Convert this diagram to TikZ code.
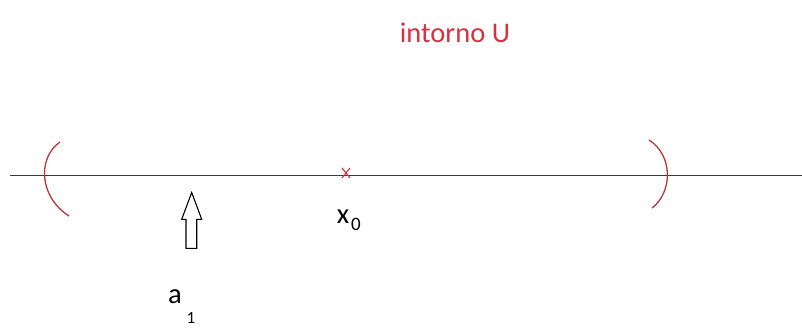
\documentclass[tikz,border=0pt]{standalone}
\usepackage{fontspec}
\setmainfont{Carlito}
\usetikzlibrary{calc}
\definecolor{axisgray}{HTML}{3A3A3A}
\definecolor{parred}{HTML}{B8363C}
\definecolor{labred}{HTML}{D9303F}
\tikzset{
  axis/.style={draw=axisgray, line width=1.9pt},
  paren/.style={draw=parred, line width=1.3pt},
  arrowshape/.style={draw=black, line width=1.1pt, fill=white, line join=miter},
  lbl/.style={inner sep=0pt, font=\fontsize{28.5}{32}\selectfont}
}
\begin{document}
\begin{tikzpicture}[x=1pt,y=-1pt]
\useasboundingbox (0,0) rectangle (802,327);
\coordinate (L) at (10,175.5);
\coordinate (R) at (802,175.5);
\draw[axis] (L) -- (R);
% parentheses
\coordinate (p1a) at (60,142);
\coordinate (p1b) at (69,216);
\draw[paren] (p1a) .. controls (38,157) and (38,196) .. (p1b);
\coordinate (p2a) at (649,140);
\coordinate (p2b) at (652,208);
\draw[paren] (p2a) .. controls (673,155) and (673,192) .. (p2b);
% cross at x0
\coordinate (x0) at (346,173);
\draw[draw=labred, line width=1.1pt] ($(x0)+(-4,-5)$) -- ($(x0)+(4,5)$) ($(x0)+(4,-5)$) -- ($(x0)+(-4,5)$);
% hollow arrow
\draw[arrowshape] (191.7,192.5) -- (201.7,219.3) -- (196.7,219.3) -- (196.7,248.3) -- (186,248.3) -- (186,219.3) -- (181.7,219.3) -- cycle;
% labels
\node[lbl, text=labred] (U) at (455,33) {intorno U};
\node[lbl] (xl) at (343,217) {x};
\node[inner sep=0pt, font=\fontsize{19}{22}\selectfont] (xs) at (356,224) {0};
\node[lbl] (al) at (175,297) {a};
\node[inner sep=0pt, font=\fontsize{17}{20}\selectfont] (as) at (191,318) {1};
\end{tikzpicture}
\end{document}
